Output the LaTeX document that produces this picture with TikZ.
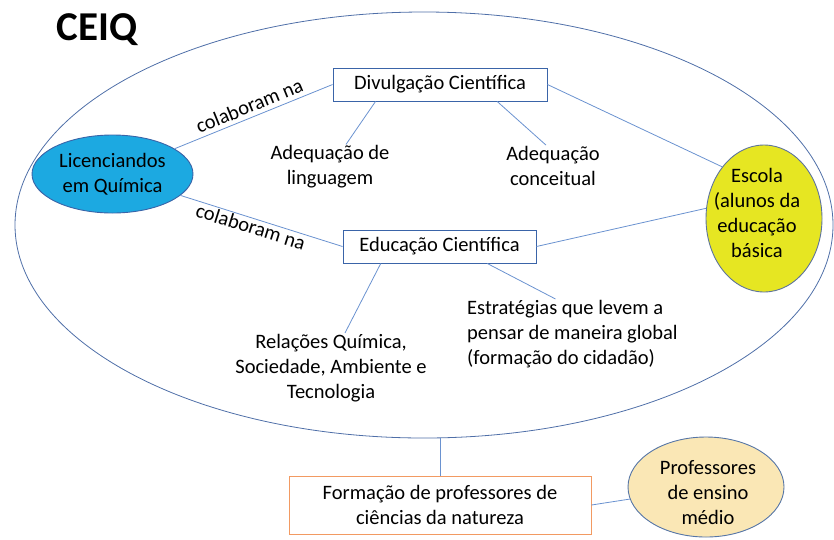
\documentclass[tikz,border=0pt]{standalone}
\usepackage{fontspec}
\setmainfont{Carlito}
\usetikzlibrary{
  calc, % For points along the box edges
  shapes.geometric % For the ellipses
}

\definecolor{linkblue}{HTML}{6A92D0}
\definecolor{ringblue}{HTML}{4F6FA8}
\definecolor{boxblue}{HTML}{3A64A8}
\definecolor{boxorange}{HTML}{F29A62}
\definecolor{licfill}{HTML}{1CA9E1}
\definecolor{escfill}{HTML}{E6E622}
\definecolor{proffill}{HTML}{FAE7B5}

\begin{document}
\begin{tikzpicture}[
      x=1pt, y=-1pt, % Pixel grid of the reference
      font=\fontsize{20.5}{25}\selectfont,
      link/.style={draw=linkblue, line width=0.8pt}, % Style for connectors
      ring/.style={draw=ringblue, line width=0.8pt},
      topic/.style={draw=boxblue, line width=0.9pt, minimum height=33pt, inner sep=0pt},
      blob/.style={ellipse, inner sep=0pt, line width=0.9pt},
      note/.style={align=center, inner sep=1pt},
    ]

    \useasboundingbox (0,0) rectangle (834,539);

    % CEIQ
    \draw[ring] (424,225) ellipse [x radius=409, y radius=213];
    \coordinate (ceiqS) at (440,437.8);
    \node[font=\fontsize{41}{44}\selectfont\bfseries] (ceiq) at (97,30) {CEIQ};

    % Knoten
    \node[blob, fill=licfill, draw=boxblue, minimum width=161pt, minimum height=78pt,
      align=center] (lic) at (112.5,174) {Licenciandos\\em Química};
    \node[blob, fill=escfill, draw=ringblue!70!gray, minimum width=116pt, minimum height=147pt]
      (esc) at (764,218.5) {};
    \node[note] (esctext) at (757,213) {Escola\\(alunos da\\educação\\básica};
    \node[blob, fill=proffill, draw=linkblue!80!black, minimum width=156pt, minimum height=100pt]
      (prof) at (706,487) {};
    \node[note] (proftext) at (708,493) {Professores\\de ensino\\médio};

    \node[topic, minimum width=214pt] (div) at (440,84.5) {Divulgação Científica};
    \node[topic, minimum width=193pt] (edu) at (439.5,246.5) {Educação Científica};
    \node[draw=boxorange, line width=0.9pt, minimum width=302pt, minimum height=58pt,
      inner sep=0pt, align=center] (form) at (440,505)
      {Formação de professores de\\ciências da natureza};

    \node[note] (ling) at (330,167) {Adequação de\\linguagem};
    \node[note] (conc) at (553,166) {Adequação\\conceitual};
    \node[note] (rel) at (331,368) {Relações Química,\\Sociedade, Ambiente e\\Tecnologia};
    \node[note, align=left, anchor=west] (estr) at (466,334)
      {Estratégias que levem a\\pensar de maneira global\\(formação do cidadão)};

    % Verbindungen
    \draw[link] (lic) -- node[sloped, above, inner sep=4pt, pos=0.5] {colaboram na} (div.west);
    \draw[link] (lic) -- node[sloped, below, inner sep=1pt, pos=0.45] {colaboram na} (edu.west);
    \draw[link] (div.east) -- (esc.129);
    \draw[link] (edu.east) -- (esc.170);

    \draw[link] ($(div.south west)!0.2!(div.south east)$) -- ([xshift=16pt]ling.north);
    \draw[link] ($(div.south west)!0.766!(div.south east)$) -- ([xshift=-7pt]conc.north);
    \draw[link] ($(edu.south west)!0.197!(edu.south east)$) -- ([xshift=14pt]rel.north);
    \draw[link] ($(edu.south west)!0.746!(edu.south east)$) -- ([xshift=-17pt]estr.north);

    \draw[link] (ceiqS) -- (form.north);
    \draw[link] (form.east) -- (prof.189);
  \end{tikzpicture}
\end{document}
